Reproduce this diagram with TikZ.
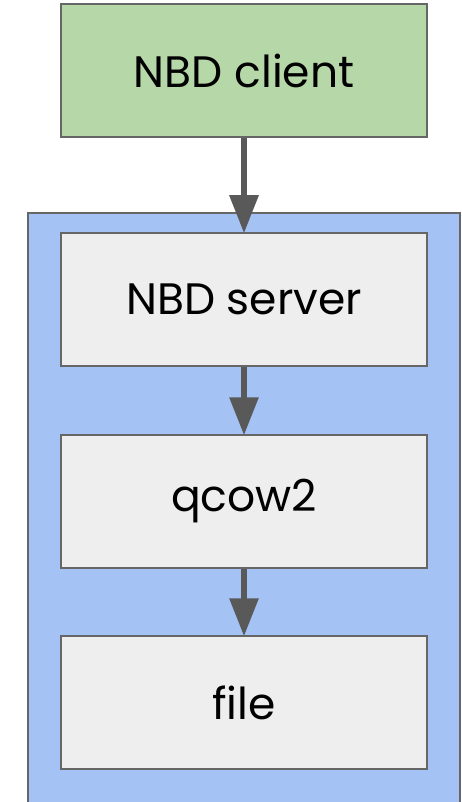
\documentclass[tikz,border=0pt]{standalone}
\usepackage{fontspec}
\setmainfont{Poppins}
\usetikzlibrary{arrows.meta}
\definecolor{clientgreen}{HTML}{B6D7A8}
\definecolor{hostblue}{HTML}{A4C2F4}
\definecolor{layergray}{HTML}{EEEEEE}
\definecolor{edgegray}{HTML}{666666}
\definecolor{arrowgray}{HTML}{595959}
\begin{document}
\begin{tikzpicture}[x=1pt,y=-1pt,
  layer/.style={draw=edgegray,line width=1.5pt,minimum width=366pt,minimum height=133pt,
    inner sep=0pt,font=\fontsize{44}{50}\selectfont},
  flow/.style={draw=arrowgray,line width=6pt,
    -{Triangle[length=38pt,width=28pt]},shorten >=-1pt}]
  \useasboundingbox (0,0) rectangle (461,802);
  % container for the server-side stack
  \path[fill=hostblue,draw=edgegray,line width=1.5pt] (28,213) rectangle (460,810);
  \node[layer,fill=clientgreen] (client) at (244,70.5) {NBD client};
  \node[layer,fill=layergray] (server) at (244,299.5) {NBD server};
  \node[layer,fill=layergray] (qcow) at (244,501.5) {qcow2};
  \node[layer,fill=layergray] (file) at (244,702.5) {file};
  \draw[flow] (client) -- (server);
  \draw[flow] (server) -- (qcow);
  \draw[flow] (qcow) -- (file);
\end{tikzpicture}
\end{document}
